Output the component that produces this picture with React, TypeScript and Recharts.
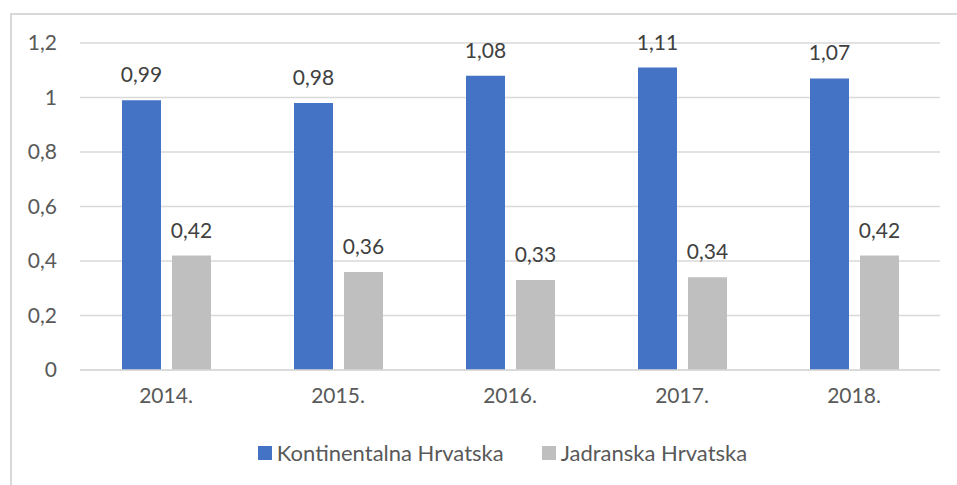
import React from "react";
import { BarChart, Bar, XAxis, YAxis, CartesianGrid, LabelList } from "recharts";

const years = ["2014.", "2015.", "2016.", "2017.", "2018."];
const kontinentalna = [0.99, 0.98, 1.08, 1.11, 1.07];
const jadranska = [0.42, 0.36, 0.33, 0.34, 0.42];
const yTicks = [0, 0.2, 0.4, 0.6, 0.8, 1, 1.2];

const BLUE = "#4472C4";
const GREY = "#BFBFBF";
const FONT = "Lato, 'Open Sans', sans-serif";

const data = years.map((y, i) => ({ year: y, k: kontinentalna[i], j: jadranska[i] }));

const comma = (v: any) => String(v).replace(".", ",");

const LegendRow = () => (
  <div style={{ position: "absolute", left: 24, top: 439, width: 957, display: "flex", justifyContent: "center", fontFamily: FONT, fontSize: 22, color: "#595959" }}>
    <div style={{ display: "flex", alignItems: "center", marginRight: 38 }}>
      <span style={{ width: 14, height: 14, background: BLUE, display: "inline-block", marginRight: 5 }} />
      Kontinentalna Hrvatska
    </div>
    <div style={{ display: "flex", alignItems: "center" }}>
      <span style={{ width: 14, height: 14, background: GREY, display: "inline-block", marginRight: 5 }} />
      Jadranska Hrvatska
    </div>
  </div>
);

export default function App() {
  return (
    <div style={{ position: "absolute", left: 0, top: 0, width: 957, height: 485, background: "#fff", overflow: "hidden" }}>
      <div style={{ position: "absolute", left: 10, top: 13, width: 960, height: 480, borderTop: "2px solid #d9d9d9", borderLeft: "2px solid #d9d9d9" }} />
      <BarChart
        width={957}
        height={485}
        data={data}
        margin={{ top: 43, right: 17, bottom: 85, left: 0 }}
        barSize={39}
        barGap={11}
        style={{ position: "absolute", left: 0, top: 0 }}
      >
        <CartesianGrid vertical={false} stroke="#d9d9d9" strokeWidth={1.5} />
        <XAxis
          dataKey="year"
          height={30}
          axisLine={{ stroke: "#d9d9d9", strokeWidth: 1.5 }}
          tickLine={false}
          tickSize={0}
          tickMargin={18}
          tick={{ fill: "#595959", fontSize: 21, fontFamily: FONT }}
        />
        <YAxis
          width={80}
          domain={[0, 1.2]}
          ticks={yTicks}
          tickFormatter={comma}
          axisLine={false}
          tickLine={false}
          tickSize={0}
          tickMargin={23}
          tick={{ fill: "#595959", fontSize: 21, fontFamily: FONT }}
        />
        <Bar dataKey="k" fill={BLUE} isAnimationActive={false}>
          <LabelList dataKey="k" position="top" offset={18} formatter={comma} fill="#404040" fontSize={21} fontFamily={FONT} />
        </Bar>
        <Bar dataKey="j" fill={GREY} isAnimationActive={false}>
          <LabelList dataKey="j" position="top" offset={18} formatter={comma} fill="#404040" fontSize={21} fontFamily={FONT} />
        </Bar>
      </BarChart>
      <LegendRow />
    </div>
  );
}
